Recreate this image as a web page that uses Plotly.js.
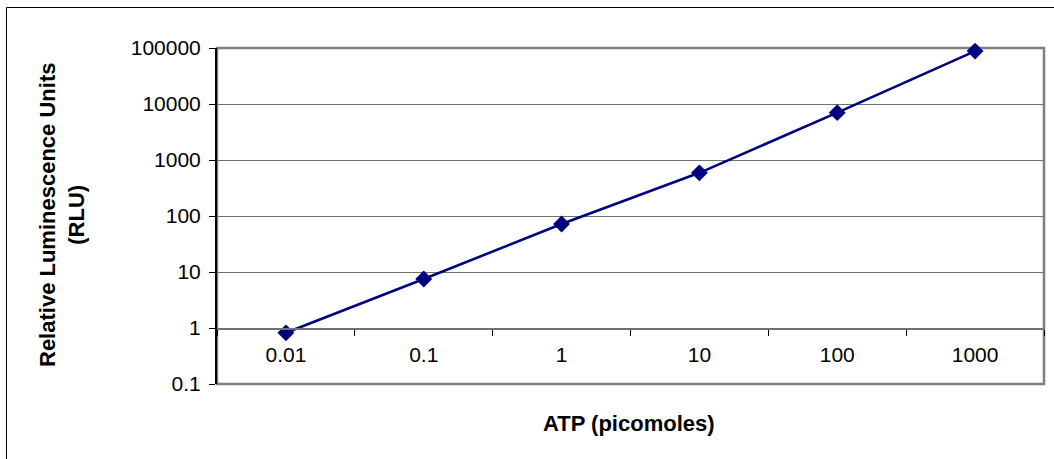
<!DOCTYPE html>
<html>
<head>
<meta charset="utf-8">
<script src="https://cdn.plot.ly/plotly-3.0.1.min.js"></script>
<style>
html,body{margin:0;padding:0;background:#fff;}
#chart{width:1054px;height:459px;}
</style>
</head>
<body>
<div id="chart"></div>
<script>
var atpLabels = ['0.01', '0.1', '1', '10', '100', '1000'];
var rluValues = [0.82, 7.5, 72, 590, 7000, 88000];
var yTickVals = [0.1, 1, 10, 100, 1000, 10000, 100000];
var yTickText = ['0.1', '1', '10', '100', '1000', '10000', '100000'];
var xTitle = 'ATP (picomoles)';
var yTitle = 'Relative Luminescence Units<br>(RLU)';

var FONT = 'Arial, "Liberation Sans", sans-serif';
var L = 217, R = 10, T = 48, B = 75, W = 1054, H = 459;
var pw = W - L - R, ph = H - T - B;
function px(x){ return (x - L) / pw; }
function py(y){ return (H - B - y) / ph; }

var trace = {
  x: atpLabels,
  y: rluValues,
  type: 'scatter',
  mode: 'lines+markers',
  line: {color: '#000080', width: 2.6},
  marker: {symbol: 'diamond', color: '#000080', size: 13},
  cliponaxis: false,
  hoverinfo: 'x+y'
};

var layout = {
  width: W, height: H,
  margin: {l: L, r: R, t: T, b: B, pad: 0},
  paper_bgcolor: '#ffffff',
  plot_bgcolor: '#ffffff',
  showlegend: false,
  font: {family: FONT, size: 21, color: '#000'},
  xaxis: {
    type: 'category',
    range: [-0.5, 5.5],
    anchor: 'free',
    position: 1/6,
    showgrid: false,
    zeroline: false,
    showline: true,
    linecolor: '#707070',
    linewidth: 1.5,
    ticks: 'outside',
    tickson: 'boundaries',
    ticklen: 6,
    tickwidth: 1,
    tickcolor: '#000',
    ticklabelstandoff: 7,
    tickfont: {family: FONT, size: 21, color: '#000'},
    fixedrange: true
  },
  yaxis: {
    type: 'log',
    range: [-1, 5],
    tickvals: yTickVals,
    ticktext: yTickText,
    showgrid: true,
    gridcolor: '#707070',
    gridwidth: 1,
    zeroline: false,
    showline: true,
    linecolor: '#000',
    linewidth: 2,
    ticks: 'outside',
    ticklen: 6,
    tickwidth: 1,
    tickcolor: '#000',
    ticklabelstandoff: 4,
    tickfont: {family: FONT, size: 21, color: '#000'},
    fixedrange: true
  },
  shapes: [
    {type: 'rect', xref: 'paper', yref: 'paper', x0: 0, x1: 1, y0: 0, y1: 1,
     line: {color: '#808080', width: 2.5}, layer: 'below'},
    {type: 'line', xref: 'paper', yref: 'paper', x0: px(6.5), x1: px(6.5), y0: py(7.5), y1: py(470),
     line: {color: '#000', width: 1}},
    {type: 'line', xref: 'paper', yref: 'paper', x0: px(6.5), x1: px(1070), y0: py(7.5), y1: py(7.5),
     line: {color: '#000', width: 1}}
  ],
  annotations: [
    {text: xTitle, xref: 'paper', yref: 'paper', x: px(629), y: py(423),
     xanchor: 'center', yanchor: 'middle', showarrow: false,
     font: {family: FONT, size: 22, color: '#000', weight: 'bold'}},
    {text: yTitle, xref: 'paper', yref: 'paper', x: px(62), y: py(215),
     xanchor: 'center', yanchor: 'middle', showarrow: false, textangle: -90,
     font: {family: FONT, size: 22, color: '#000', weight: 'bold'}}
  ]
};

Plotly.newPlot('chart', [trace], layout, {displayModeBar: false, staticPlot: true});
</script>
</body>
</html>
